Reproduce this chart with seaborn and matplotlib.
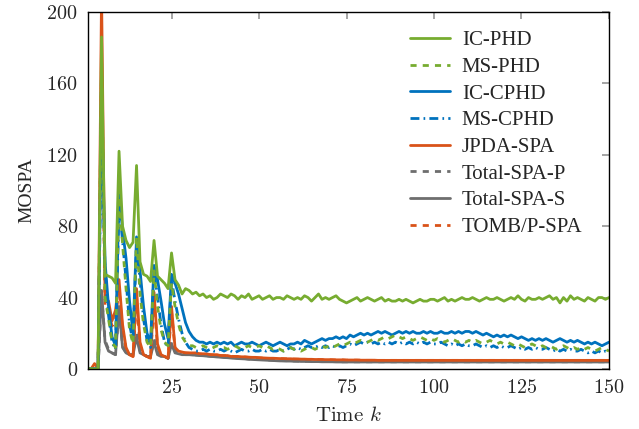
import numpy as np
import pandas as pd
import matplotlib
matplotlib.use("Agg")
import matplotlib.pyplot as plt
from matplotlib.ticker import FuncFormatter
import seaborn as sns

# Time steps
k = np.arange(1, 151)

# MOSPA values (k = 1..150)
ic_phd = [
    0, 0, 0, 0, 186, 53, 52, 51, 48, 122,
    80, 72, 68, 71, 114, 60, 53, 52, 49, 72,
    52, 50, 48, 45, 65, 50, 47, 42, 45, 44,
    42, 43, 41, 42, 40, 41, 39, 40, 42, 41,
    40, 42, 41, 39, 41, 40, 42, 39, 40, 41,
    39, 40, 41, 39, 40, 40, 39, 41, 40, 39,
    40, 39, 41, 40, 38, 40, 42, 39, 40, 39,
    40, 41, 39, 38, 37, 38, 39, 40, 38, 39,
    40, 39, 38, 39, 40, 38, 39, 38, 38, 39,
    38, 39, 38, 37, 38, 39, 38, 38, 39, 39,
    38, 39, 40, 38, 39, 38, 39, 40, 39, 39,
    40, 39, 38, 39, 40, 39, 39, 40, 39, 38,
    39, 40, 39, 41, 39, 38, 40, 39, 39, 40,
    39, 40, 41, 39, 40, 37, 40, 38, 41, 39,
    40, 39, 38, 40, 39, 38, 40, 40, 39, 40,
]
ms_phd = [
    0, 0, 0, 0, 175, 40, 28, 15, 12, 100,
    70, 45, 22, 14, 74, 42, 25, 15, 12, 55,
    35, 22, 15, 13, 48, 35, 25, 18, 15, 13,
    13, 12, 12, 13, 12, 11, 12, 13, 12, 12,
    11, 12, 13, 12, 11, 12, 13, 12, 12, 13,
    12, 13, 12, 11, 12, 11, 10, 11, 12, 11,
    11, 10, 11, 12, 12, 11, 12, 13, 12, 13,
    12, 13, 14, 13, 14, 15, 14, 15, 16, 15,
    15, 16, 17, 16, 17, 18, 17, 18, 19, 18,
    17, 18, 17, 16, 17, 18, 17, 16, 17, 16,
    17, 16, 15, 16, 17, 16, 15, 16, 15, 16,
    15, 16, 15, 14, 15, 16, 15, 14, 15, 14,
    15, 14, 13, 14, 13, 12, 13, 14, 13, 12,
    13, 12, 13, 12, 11, 12, 13, 12, 11, 12,
    11, 12, 11, 12, 11, 10, 11, 12, 11, 10,
]
ic_cphd = [
    0, 0, 0, 0, 150, 60, 35, 18, 13, 98,
    78, 62, 38, 20, 74, 55, 35, 20, 15, 58,
    50, 38, 25, 17, 53, 48, 42, 34, 26, 21,
    18, 16, 15, 15, 14, 15, 14, 15, 14, 15,
    14, 15, 13, 14, 15, 14, 14, 15, 14, 13,
    14, 15, 14, 13, 14, 15, 14, 13, 14, 14,
    15, 14, 16, 15, 14, 15, 16, 17, 16, 17,
    17, 18, 17, 18, 17, 19, 18, 19, 20, 19,
    20, 19, 20, 21, 20, 21, 20, 19, 20, 21,
    20, 21, 20, 21, 20, 20, 21, 20, 21, 20,
    20, 21, 20, 20, 21, 20, 21, 20, 21, 21,
    20, 21, 20, 19, 20, 19, 18, 19, 18, 19,
    18, 19, 18, 17, 18, 17, 16, 17, 16, 17,
    16, 17, 16, 15, 16, 17, 16, 15, 16, 15,
    16, 15, 14, 15, 14, 15, 14, 13, 14, 15,
]
ms_cphd = [
    0, 0, 0, 0, 145, 55, 30, 15, 11, 92,
    72, 50, 25, 15, 70, 50, 28, 16, 12, 55,
    40, 25, 15, 12, 50, 38, 28, 20, 15, 12,
    11, 10, 10, 11, 10, 11, 10, 10, 11, 10,
    11, 10, 9, 10, 11, 10, 10, 11, 10, 10,
    11, 10, 11, 10, 10, 11, 10, 11, 12, 11,
    12, 11, 12, 13, 12, 12, 13, 12, 13, 12,
    13, 12, 13, 12, 13, 14, 13, 14, 15, 14,
    15, 14, 15, 14, 15, 14, 15, 14, 15, 14,
    15, 14, 15, 14, 15, 14, 15, 14, 15, 14,
    14, 15, 14, 13, 14, 13, 14, 13, 14, 13,
    13, 14, 13, 12, 13, 12, 13, 12, 13, 12,
    12, 13, 12, 11, 12, 11, 12, 11, 12, 11,
    11, 12, 11, 10, 11, 10, 11, 10, 11, 10,
    10, 11, 10, 9, 10, 9, 10, 9, 10, 9,
]
jpda_spa = [
    0, 0, 3, 0, 210, 40, 38, 27, 33, 50,
    25, 12, 8, 7, 45, 15, 8, 7, 6, 43,
    14, 8, 7, 6, 35, 12, 10, 9.5, 9, 9,
    9, 9, 8.5, 8.5, 8.5, 8, 8, 8, 7.5, 7.5,
    7.5, 7, 7, 7, 6.8, 6.8, 6.6, 6.5, 6.5, 6.3,
    6.2, 6.1, 6.0, 6.0, 5.9, 5.8, 5.8, 5.7, 5.7, 5.6,
    5.6, 5.5, 5.5, 5.4, 5.4, 5.3, 5.3, 5.3, 5.2, 5.2,
    5.2, 5.1, 5.1, 5.1, 5.0, 5.0, 5.0, 5.0, 4.9, 4.9,
    4.9, 4.9, 4.9, 4.8, 4.8, 4.8, 4.8, 4.8, 4.8, 4.8,
    4.8, 4.8, 4.8, 4.8, 4.8, 4.8, 4.8, 4.8, 4.8, 4.8,
    4.8, 4.8, 4.8, 4.8, 4.8, 4.8, 4.8, 4.8, 4.8, 4.8,
    4.8, 4.8, 4.8, 4.8, 4.8, 4.8, 4.8, 4.8, 4.8, 4.8,
    4.8, 4.8, 4.8, 4.8, 4.8, 4.8, 4.8, 4.8, 4.8, 4.8,
    4.8, 4.8, 4.8, 4.8, 4.8, 4.8, 4.8, 4.8, 4.8, 4.8,
    4.8, 4.8, 4.8, 4.8, 4.8, 4.8, 4.8, 4.8, 4.8, 4.8,
]
total_spa_p = [
    0, 0, 0, 0, 42, 16, 11, 9, 8, 33,
    13, 9, 8, 8, 20, 10, 8, 7, 7, 17,
    9, 7, 7, 6, 15, 10, 9, 8.5, 8, 8,
    8, 7.8, 7.6, 7.5, 7.4, 7.2, 7.0, 6.9, 6.8, 6.6,
    6.5, 6.3, 6.2, 6.0, 5.9, 5.8, 5.6, 5.5, 5.4, 5.3,
    5.2, 5.1, 5.0, 4.9, 4.8, 4.7, 4.6, 4.6, 4.5, 4.5,
    4.4, 4.4, 4.3, 4.3, 4.3, 4.2, 4.2, 4.2, 4.1, 4.1,
    4.1, 4.1, 4.0, 4.0, 4.0, 4.0, 4.0, 4.0, 4.0, 4.0,
    4.0, 4.0, 4.0, 4.0, 4.0, 4.0, 4.0, 4.0, 4.0, 4.0,
    4.0, 4.0, 4.0, 4.0, 4.0, 4.0, 4.0, 4.0, 4.0, 4.0,
    4.0, 4.0, 4.0, 4.0, 4.0, 4.0, 4.0, 4.0, 4.0, 4.0,
    4.0, 4.0, 4.0, 4.0, 4.0, 4.0, 4.0, 4.0, 4.0, 4.0,
    4.0, 4.0, 4.0, 4.0, 4.0, 4.0, 4.0, 4.0, 4.0, 4.0,
    4.0, 4.0, 4.0, 4.0, 4.0, 4.0, 4.0, 4.0, 4.0, 4.0,
    4.0, 4.0, 4.0, 4.0, 4.0, 4.0, 4.0, 4.0, 4.0, 4.0,
]
total_spa_s = [
    0, 0, 0, 0, 44, 15, 10, 9, 8, 35,
    12, 9, 8, 8, 18, 9, 8, 7, 7, 15,
    8, 7, 7, 6, 14, 9, 8.5, 8, 8, 8,
    7.8, 7.7, 7.5, 7.4, 7.2, 7.0, 6.9, 6.7, 6.6, 6.4,
    6.3, 6.1, 6.0, 5.8, 5.7, 5.6, 5.4, 5.3, 5.2, 5.1,
    5.0, 4.9, 4.8, 4.7, 4.6, 4.5, 4.5, 4.4, 4.4, 4.3,
    4.3, 4.2, 4.2, 4.2, 4.1, 4.1, 4.1, 4.0, 4.0, 4.0,
    4.0, 3.9, 3.9, 3.9, 3.9, 3.9, 3.9, 3.9, 3.9, 3.9,
    3.9, 3.9, 3.9, 3.9, 3.9, 3.9, 3.9, 3.9, 3.9, 3.9,
    3.9, 3.9, 3.9, 3.9, 3.9, 3.9, 3.9, 3.9, 3.9, 3.9,
    3.9, 3.9, 3.9, 3.9, 3.9, 3.9, 3.9, 3.9, 3.9, 3.9,
    3.9, 3.9, 3.9, 3.9, 3.9, 3.9, 3.9, 3.9, 3.9, 3.9,
    3.9, 3.9, 3.9, 3.9, 3.9, 3.9, 3.9, 3.9, 3.9, 3.9,
    3.9, 3.9, 3.9, 3.9, 3.9, 3.9, 3.9, 3.9, 3.9, 3.9,
    3.9, 3.9, 3.9, 3.9, 3.9, 3.9, 3.9, 3.9, 3.9, 3.9,
]
tomb_p_spa = [
    0, 0, 2, 0, 170, 35, 32, 24, 28, 45,
    22, 11, 8, 7, 40, 13, 8, 7, 6, 38,
    12, 8, 7, 6, 32, 11, 9.5, 9, 9, 8.8,
    8.7, 8.6, 8.4, 8.3, 8.2, 8.0, 7.8, 7.7, 7.5, 7.4,
    7.3, 7.1, 7.0, 6.9, 6.7, 6.6, 6.5, 6.4, 6.3, 6.2,
    6.1, 6.0, 5.9, 5.8, 5.8, 5.7, 5.6, 5.6, 5.5, 5.5,
    5.4, 5.4, 5.3, 5.3, 5.3, 5.2, 5.2, 5.1, 5.1, 5.1,
    5.0, 5.0, 5.0, 5.0, 4.9, 4.9, 4.9, 4.9, 4.9, 4.8,
    4.8, 4.8, 4.8, 4.8, 4.8, 4.8, 4.8, 4.8, 4.8, 4.8,
    4.8, 4.8, 4.8, 4.8, 4.8, 4.8, 4.8, 4.8, 4.8, 4.8,
    4.8, 4.8, 4.8, 4.8, 4.8, 4.8, 4.8, 4.8, 4.8, 4.8,
    4.8, 4.8, 4.8, 4.8, 4.8, 4.8, 4.8, 4.8, 4.8, 4.8,
    4.8, 4.8, 4.8, 4.8, 4.8, 4.8, 4.8, 4.8, 4.8, 4.8,
    4.8, 4.8, 4.8, 4.8, 4.8, 4.8, 4.8, 4.8, 4.8, 4.8,
    4.8, 4.8, 4.8, 4.8, 4.8, 4.8, 4.8, 4.8, 4.8, 4.8,
]

labels = ["IC-PHD", "MS-PHD", "IC-CPHD", "MS-CPHD",
          "JPDA-SPA", "Total-SPA-P", "Total-SPA-S", "TOMB/P-SPA"]
series = [ic_phd, ms_phd, ic_cphd, ms_cphd,
          jpda_spa, total_spa_p, total_spa_s, tomb_p_spa]

green = "#77AC30"
blue = "#0072BD"
red = "#D95319"
gray = "#6E6E6E"
colors = [green, green, blue, blue, red, gray, gray, red]
styles = ["-", (0, (2.2, 2.2)), "-", (0, (3.2, 1.5, 0.6, 1.5)),
          "-", (0, (2.2, 2.2)), "-", (0, (2.2, 2.2))]

sns.set_theme(style="white")
plt.rcParams["font.family"] = ["Liberation Serif", "DejaVu Serif"]
plt.rcParams["mathtext.fontset"] = "cm"

fig = plt.figure(figsize=(6.39, 4.29), dpi=100)
ax = fig.add_axes([0.137, 0.14, 0.816, 0.832])

# draw in reverse so IC-PHD sits on top like the original
for i in reversed(range(len(labels))):
    df = pd.DataFrame({"k": k, "mospa": series[i]})
    sns.lineplot(data=df, x="k", y="mospa", ax=ax, color=colors[i],
                 linestyle=styles[i], linewidth=2.0, label=labels[i])

ax.set_xlim(1, 150)
ax.set_ylim(0, 200)
ax.set_xticks([25, 50, 75, 100, 125, 150])
ax.set_yticks([0, 40, 80, 120, 160, 200])
cm_fmt = FuncFormatter(lambda v, p: f"${v:.0f}$")
ax.xaxis.set_major_formatter(cm_fmt)
ax.yaxis.set_major_formatter(cm_fmt)
ax.tick_params(direction="in", length=5, color="#999999", top=True, right=True,
               labelsize=14.5, pad=7)
for sp in ax.spines.values():
    sp.set_color("black")
    sp.set_linewidth(1.0)

ax.set_xlabel("Time $k$", fontsize=15, labelpad=6,
              fontfamily=["cmr10", "DejaVu Serif"])
ax.set_ylabel("MOSPA", fontsize=14, labelpad=8)

handles, labs = ax.get_legend_handles_labels()
order = [labs.index(l) for l in labels]
ax.legend([handles[i] for i in order], labels, loc="upper right",
          bbox_to_anchor=(0.985, 1.0), frameon=False, fontsize=15,
          handlelength=1.95, labelspacing=0.34, handletextpad=0.55)

fig.savefig("out.png", dpi=100)
